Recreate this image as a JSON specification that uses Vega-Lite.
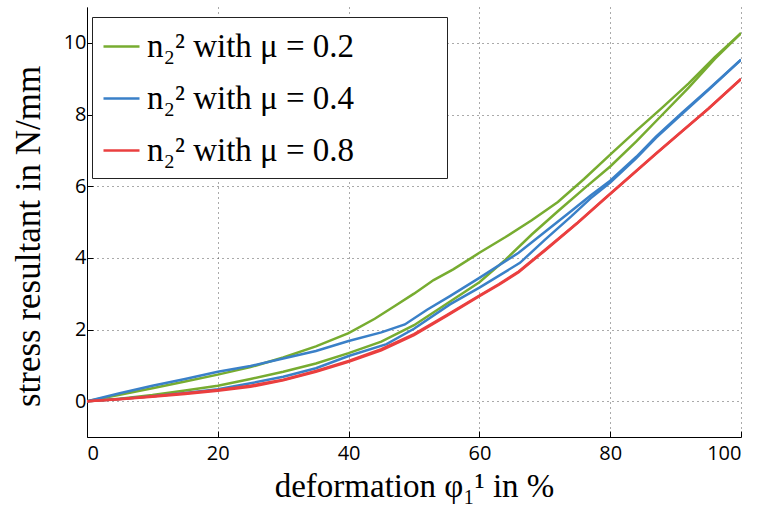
{
  "$schema": "https://vega.github.io/schema/vega-lite/v6.json",
  "width": 654,
  "height": 430,
  "autosize": {"type": "none"},
  "padding": {"left": 87, "top": 7, "right": 17, "bottom": 70},
  "background": "white",
  "config": {
    "view": {"stroke": null},
    "axis": {
      "domainColor": "#000000",
      "domainWidth": 1,
      "tickColor": "#000000",
      "tickWidth": 1,
      "tickSize": -6,
      "grid": true,
      "gridColor": "#555555",
      "gridDash": [1, 4],
      "gridWidth": 1,
      "labelFont": "Open Sans",
      "labelFontSize": 20,
      "labelColor": "#000000",
      "titleFont": "Liberation Serif",
      "titleFontWeight": "normal",
      "titleColor": "#000000"
    }
  },
  "data": {
    "values": [
      {"mu": "0.2", "b": "a", "x": 0, "y": 0}, {"mu": "0.2", "b": "a", "x": 5, "y": 0.18}, {"mu": "0.2", "b": "a", "x": 10, "y": 0.36}, {"mu": "0.2", "b": "a", "x": 15, "y": 0.55}, {"mu": "0.2", "b": "a", "x": 20, "y": 0.74}, {"mu": "0.2", "b": "a", "x": 25, "y": 0.95}, {"mu": "0.2", "b": "a", "x": 30, "y": 1.22}, {"mu": "0.2", "b": "a", "x": 35, "y": 1.53}, {"mu": "0.2", "b": "a", "x": 40, "y": 1.9}, {"mu": "0.2", "b": "a", "x": 44, "y": 2.3}, {"mu": "0.2", "b": "a", "x": 47, "y": 2.65}, {"mu": "0.2", "b": "a", "x": 50, "y": 3.0}, {"mu": "0.2", "b": "a", "x": 53, "y": 3.38}, {"mu": "0.2", "b": "a", "x": 56, "y": 3.68}, {"mu": "0.2", "b": "a", "x": 60, "y": 4.14}, {"mu": "0.2", "b": "a", "x": 64, "y": 4.58}, {"mu": "0.2", "b": "a", "x": 68, "y": 5.05}, {"mu": "0.2", "b": "a", "x": 72, "y": 5.56}, {"mu": "0.2", "b": "a", "x": 76, "y": 6.2}, {"mu": "0.2", "b": "a", "x": 80, "y": 6.88}, {"mu": "0.2", "b": "a", "x": 84, "y": 7.55}, {"mu": "0.2", "b": "a", "x": 88, "y": 8.2}, {"mu": "0.2", "b": "a", "x": 92, "y": 8.87}, {"mu": "0.2", "b": "a", "x": 96, "y": 9.6}, {"mu": "0.2", "b": "a", "x": 100, "y": 10.27},
      {"mu": "0.2", "b": "b", "x": 0, "y": 0}, {"mu": "0.2", "b": "b", "x": 5, "y": 0.07}, {"mu": "0.2", "b": "b", "x": 10, "y": 0.17}, {"mu": "0.2", "b": "b", "x": 15, "y": 0.3}, {"mu": "0.2", "b": "b", "x": 20, "y": 0.43}, {"mu": "0.2", "b": "b", "x": 25, "y": 0.62}, {"mu": "0.2", "b": "b", "x": 30, "y": 0.82}, {"mu": "0.2", "b": "b", "x": 35, "y": 1.05}, {"mu": "0.2", "b": "b", "x": 40, "y": 1.34}, {"mu": "0.2", "b": "b", "x": 45, "y": 1.66}, {"mu": "0.2", "b": "b", "x": 50, "y": 2.12}, {"mu": "0.2", "b": "b", "x": 55, "y": 2.72}, {"mu": "0.2", "b": "b", "x": 60, "y": 3.32}, {"mu": "0.2", "b": "b", "x": 64, "y": 3.95}, {"mu": "0.2", "b": "b", "x": 68, "y": 4.65}, {"mu": "0.2", "b": "b", "x": 72, "y": 5.3}, {"mu": "0.2", "b": "b", "x": 76, "y": 5.93}, {"mu": "0.2", "b": "b", "x": 80, "y": 6.55}, {"mu": "0.2", "b": "b", "x": 84, "y": 7.25}, {"mu": "0.2", "b": "b", "x": 88, "y": 8.0}, {"mu": "0.2", "b": "b", "x": 92, "y": 8.75}, {"mu": "0.2", "b": "b", "x": 96, "y": 9.55}, {"mu": "0.2", "b": "b", "x": 100, "y": 10.27},
      {"mu": "0.4", "b": "a", "x": 0, "y": 0}, {"mu": "0.4", "b": "a", "x": 5, "y": 0.22}, {"mu": "0.4", "b": "a", "x": 10, "y": 0.43}, {"mu": "0.4", "b": "a", "x": 15, "y": 0.62}, {"mu": "0.4", "b": "a", "x": 20, "y": 0.82}, {"mu": "0.4", "b": "a", "x": 25, "y": 0.98}, {"mu": "0.4", "b": "a", "x": 30, "y": 1.19}, {"mu": "0.4", "b": "a", "x": 35, "y": 1.4}, {"mu": "0.4", "b": "a", "x": 40, "y": 1.68}, {"mu": "0.4", "b": "a", "x": 45, "y": 1.92}, {"mu": "0.4", "b": "a", "x": 48.6, "y": 2.14}, {"mu": "0.4", "b": "a", "x": 52, "y": 2.55}, {"mu": "0.4", "b": "a", "x": 55.5, "y": 2.93}, {"mu": "0.4", "b": "a", "x": 60, "y": 3.44}, {"mu": "0.4", "b": "a", "x": 66, "y": 4.14}, {"mu": "0.4", "b": "a", "x": 70, "y": 4.72}, {"mu": "0.4", "b": "a", "x": 74, "y": 5.3}, {"mu": "0.4", "b": "a", "x": 77, "y": 5.74}, {"mu": "0.4", "b": "a", "x": 80, "y": 6.15}, {"mu": "0.4", "b": "a", "x": 84, "y": 6.82}, {"mu": "0.4", "b": "a", "x": 87, "y": 7.38}, {"mu": "0.4", "b": "a", "x": 91, "y": 8.05}, {"mu": "0.4", "b": "a", "x": 95, "y": 8.7}, {"mu": "0.4", "b": "a", "x": 100, "y": 9.53},
      {"mu": "0.4", "b": "b", "x": 0, "y": 0}, {"mu": "0.4", "b": "b", "x": 5, "y": 0.06}, {"mu": "0.4", "b": "b", "x": 10, "y": 0.14}, {"mu": "0.4", "b": "b", "x": 15, "y": 0.23}, {"mu": "0.4", "b": "b", "x": 20, "y": 0.33}, {"mu": "0.4", "b": "b", "x": 25, "y": 0.5}, {"mu": "0.4", "b": "b", "x": 30, "y": 0.68}, {"mu": "0.4", "b": "b", "x": 35, "y": 0.92}, {"mu": "0.4", "b": "b", "x": 40, "y": 1.26}, {"mu": "0.4", "b": "b", "x": 45.8, "y": 1.59}, {"mu": "0.4", "b": "b", "x": 50, "y": 2.02}, {"mu": "0.4", "b": "b", "x": 55.5, "y": 2.7}, {"mu": "0.4", "b": "b", "x": 60, "y": 3.17}, {"mu": "0.4", "b": "b", "x": 66.2, "y": 3.86}, {"mu": "0.4", "b": "b", "x": 70, "y": 4.5}, {"mu": "0.4", "b": "b", "x": 74, "y": 5.15}, {"mu": "0.4", "b": "b", "x": 77, "y": 5.66}, {"mu": "0.4", "b": "b", "x": 80, "y": 6.1}, {"mu": "0.4", "b": "b", "x": 84, "y": 6.78}, {"mu": "0.4", "b": "b", "x": 87, "y": 7.35}, {"mu": "0.4", "b": "b", "x": 91, "y": 8.02}, {"mu": "0.4", "b": "b", "x": 95, "y": 8.68}, {"mu": "0.4", "b": "b", "x": 100, "y": 9.53},
      {"mu": "0.8", "b": "a", "x": 0, "y": 0}, {"mu": "0.8", "b": "a", "x": 5, "y": 0.05}, {"mu": "0.8", "b": "a", "x": 10, "y": 0.12}, {"mu": "0.8", "b": "a", "x": 15, "y": 0.2}, {"mu": "0.8", "b": "a", "x": 20, "y": 0.29}, {"mu": "0.8", "b": "a", "x": 25, "y": 0.4}, {"mu": "0.8", "b": "a", "x": 30, "y": 0.58}, {"mu": "0.8", "b": "a", "x": 35, "y": 0.82}, {"mu": "0.8", "b": "a", "x": 40, "y": 1.1}, {"mu": "0.8", "b": "a", "x": 45, "y": 1.42}, {"mu": "0.8", "b": "a", "x": 50, "y": 1.84}, {"mu": "0.8", "b": "a", "x": 55, "y": 2.38}, {"mu": "0.8", "b": "a", "x": 60, "y": 2.93}, {"mu": "0.8", "b": "a", "x": 63, "y": 3.25}, {"mu": "0.8", "b": "a", "x": 66, "y": 3.6}, {"mu": "0.8", "b": "a", "x": 70, "y": 4.2}, {"mu": "0.8", "b": "a", "x": 75, "y": 4.97}, {"mu": "0.8", "b": "a", "x": 79, "y": 5.62}, {"mu": "0.8", "b": "a", "x": 83, "y": 6.26}, {"mu": "0.8", "b": "a", "x": 87, "y": 6.9}, {"mu": "0.8", "b": "a", "x": 91, "y": 7.53}, {"mu": "0.8", "b": "a", "x": 95, "y": 8.16}, {"mu": "0.8", "b": "a", "x": 100, "y": 8.99},
      {"mu": "0.8", "b": "b", "x": 0, "y": 0}, {"mu": "0.8", "b": "b", "x": 5, "y": 0.06}, {"mu": "0.8", "b": "b", "x": 10, "y": 0.14}, {"mu": "0.8", "b": "b", "x": 15, "y": 0.22}, {"mu": "0.8", "b": "b", "x": 20, "y": 0.31}, {"mu": "0.8", "b": "b", "x": 25, "y": 0.43}, {"mu": "0.8", "b": "b", "x": 30, "y": 0.6}, {"mu": "0.8", "b": "b", "x": 35, "y": 0.84}, {"mu": "0.8", "b": "b", "x": 40, "y": 1.12}, {"mu": "0.8", "b": "b", "x": 45, "y": 1.45}, {"mu": "0.8", "b": "b", "x": 50, "y": 1.87}, {"mu": "0.8", "b": "b", "x": 55, "y": 2.4}, {"mu": "0.8", "b": "b", "x": 60, "y": 2.95}, {"mu": "0.8", "b": "b", "x": 63, "y": 3.27}, {"mu": "0.8", "b": "b", "x": 66, "y": 3.62}, {"mu": "0.8", "b": "b", "x": 70, "y": 4.22}, {"mu": "0.8", "b": "b", "x": 75, "y": 4.98}, {"mu": "0.8", "b": "b", "x": 79, "y": 5.63}, {"mu": "0.8", "b": "b", "x": 83, "y": 6.27}, {"mu": "0.8", "b": "b", "x": 87, "y": 6.91}, {"mu": "0.8", "b": "b", "x": 91, "y": 7.54}, {"mu": "0.8", "b": "b", "x": 95, "y": 8.16}, {"mu": "0.8", "b": "b", "x": 100, "y": 8.99}
    ]
  },
  "mark": {"type": "line", "strokeWidth": 2.5, "clip": true},
  "encoding": {
    "x": {
      "field": "x",
      "type": "quantitative",
      "scale": {"domain": [0, 100], "nice": false},
      "axis": {"values": [0, 20, 40, 60, 80, 100], "title": "deformation φ₁¹ in %", "titleFontSize": 33, "labelPadding": 12, "titleY": 59, "titleBaseline": "alphabetic"}
    },
    "y": {
      "field": "y",
      "type": "quantitative",
      "scale": {"domain": [-1, 11], "nice": false, "zero": false},
      "axis": {"values": [0, 2, 4, 6, 8, 10], "title": "stress resultant in N/mm", "titleFontSize": 35, "labelPadding": 7, "titleX": -48, "titleY": 229, "titleBaseline": "alphabetic"}
    },
    "color": {
      "field": "mu",
      "type": "nominal",
      "scale": {"domain": ["0.2", "0.4", "0.8"], "range": ["#77ac30", "#3a80c8", "#ea3f3f"]},
      "legend": {
        "orient": "none",
        "legendX": 5,
        "legendY": 10,
        "title": null,
        "symbolType": "stroke",
        "symbolSize": 1296,
        "symbolStrokeWidth": 2.5,
        "labelFont": "Liberation Serif",
        "labelFontSize": 33,
        "labelColor": "#000000",
        "labelLimit": 1000,
        "labelOffset": 6,
        "labelExpr": "'n₂² with μ = ' + datum.label + '\u2003\u2003\u2002\u200b'",
        "strokeColor": "#222222",
        "fillColor": "white",
        "padding": 10,
        "rowPadding": 15
      }
    },
    "detail": {"field": "b"}
  }
}
